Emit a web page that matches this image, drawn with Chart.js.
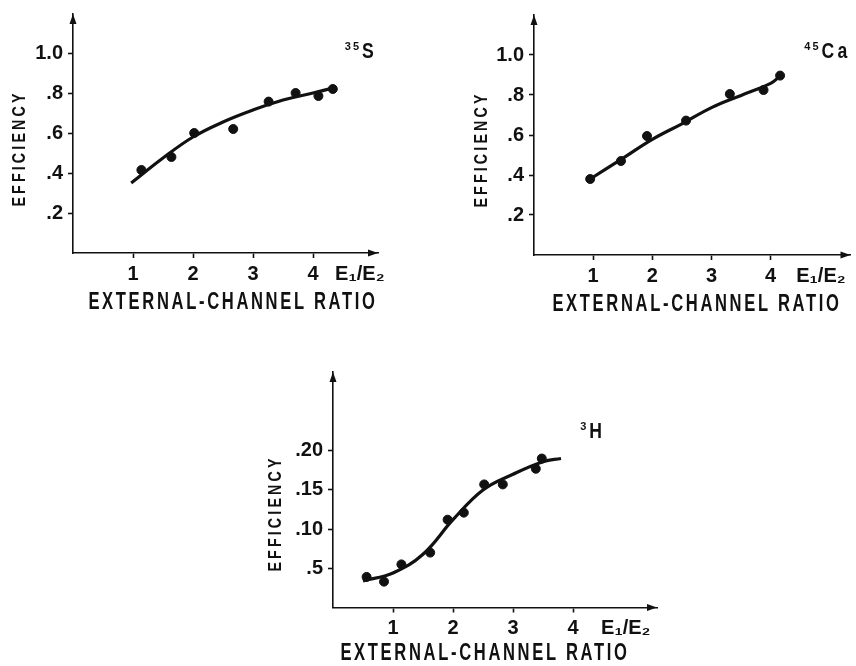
<!DOCTYPE html>
<html>
<head>
<meta charset="utf-8">
<script src="https://cdn.jsdelivr.net/npm/chart.js@4.4.1/dist/chart.umd.min.js"></script>
<style>
  body { margin: 0; background: #fff; width: 856px; height: 666px; overflow: hidden; }
  .panel { position: absolute; }
</style>
</head>
<body>
<div class="panel" style="left:0;top:0"><canvas id="sulfur" width="428" height="330"></canvas></div>
<div class="panel" style="left:428px;top:0"><canvas id="calcium" width="428" height="330"></canvas></div>
<div class="panel" style="left:200px;top:340px"><canvas id="tritium" width="470" height="326"></canvas></div>
<script>
// 35S panel
const sulfurX = [1.14, 1.64, 2.02, 2.67, 3.26, 3.71, 4.09, 4.33];
const sulfurY = [0.415, 0.48, 0.60, 0.62, 0.757, 0.80, 0.785, 0.82];
const sulfurFitX = [0.97, 1.5, 2.0, 2.5, 3.0, 3.5, 4.0, 4.33];
const sulfurFitY = [0.35, 0.475, 0.58, 0.655, 0.715, 0.765, 0.80, 0.825];

// 45Ca panel
const calciumX = [0.95, 1.47, 1.91, 2.57, 3.31, 3.88, 4.16];
const calciumY = [0.38, 0.47, 0.595, 0.672, 0.805, 0.825, 0.897];
const calciumFitX = [0.95, 1.5, 2.0, 2.5, 3.0, 3.5, 4.0, 4.17];
const calciumFitY = [0.38, 0.483, 0.578, 0.656, 0.737, 0.798, 0.858, 0.897];

// 3H panel
const tritiumX = [0.56, 0.85, 1.14, 1.62, 1.91, 2.18, 2.52, 2.83, 3.38, 3.48];
const tritiumY = [0.039, 0.033, 0.055, 0.070, 0.112, 0.121, 0.157, 0.157, 0.177, 0.190];
const tritiumFitX = [0.5, 1.0, 1.5, 2.0, 2.5, 3.0, 3.5, 3.8];
const tritiumFitY = [0.034, 0.044, 0.068, 0.112, 0.150, 0.170, 0.186, 0.19];

// tick labels
const xTicks = [1, 2, 3, 4];
const xTickLabels = ['1', '2', '3', '4'];
const effTicks = [0.2, 0.4, 0.6, 0.8, 1.0];
const effTickLabels = ['.2', '.4', '.6', '.8', '1.0'];
const tritiumTicks = [0.05, 0.10, 0.15, 0.20];
const tritiumTickLabels = ['.5', '.10', '.15', '.20'];

const xUnit = 'E\u2081/E\u2082';
const xTitle = 'EXTERNAL-CHANNEL RATIO';
const yTitle = 'EFFICIENCY';

const INK = '#111';
const FAMILY = '"Liberation Sans", Arial, sans-serif';

// text squeezed sideways, the original lettering is a narrow face
function narrowText(ctx, text, x, y, sx, spacing, angle) {
    ctx.save();
    ctx.translate(x, y);
    if (angle) ctx.rotate(angle);
    ctx.scale(sx, 1);
    ctx.letterSpacing = spacing + 'px';
    ctx.fillText(text, 0, 0);
    const w = ctx.measureText(text).width * sx;
    ctx.restore();
    return w;
}

const decor = {
    id: 'decor',
    afterDraw(chart, args, opts) {
        const { ctx, chartArea: a, scales } = chart;
        ctx.save();
        ctx.fillStyle = INK;

        // arrow heads on both axes
        ctx.beginPath();
        ctx.moveTo(a.right, a.bottom);
        ctx.lineTo(a.right - 10, a.bottom - 3.5);
        ctx.lineTo(a.right - 10, a.bottom + 3.5);
        ctx.fill();
        ctx.beginPath();
        ctx.moveTo(a.left, a.top);
        ctx.lineTo(a.left - 3.5, a.top + 10);
        ctx.lineTo(a.left + 3.5, a.top + 10);
        ctx.fill();

        ctx.textAlign = 'center';
        ctx.textBaseline = 'middle';
        ctx.font = `bold 23px ${FAMILY}`;
        narrowText(ctx, xTitle, a.left + opts.xTitleDx, a.bottom + opts.xTitleDy, 0.72, 3.7);

        ctx.font = `bold 19px ${FAMILY}`;
        narrowText(ctx, yTitle, a.left - opts.yTitleDx, a.bottom - opts.yTitleDy, 0.75, 4.2, -Math.PI / 2);

        // isotope name, mass number raised
        ctx.textAlign = 'left';
        ctx.textBaseline = 'alphabetic';
        const ix = scales.x.getPixelForValue(opts.isoX);
        const iy = scales.y.getPixelForValue(opts.isoY);
        ctx.font = `bold 11px ${FAMILY}`;
        const mw = narrowText(ctx, opts.mass, ix, iy - 8, 1, 2);
        ctx.font = `bold 22px ${FAMILY}`;
        narrowText(ctx, opts.symbol, ix + mw + 1, iy, 0.8, 4);
        ctx.restore();
    }
};

function makePanel(id, p) {
    const unitPos = p.unitPos;
    new Chart(document.getElementById(id), {
        type: 'scatter',
        data: {
            datasets: [{
                type: 'line',
                data: p.fitX.map((x, i) => ({ x, y: p.fitY[i] })),
                borderColor: INK,
                borderWidth: 3.2,
                pointRadius: 0,
                tension: 0.4,
                fill: false
            }, {
                data: p.x.map((x, i) => ({ x, y: p.y[i] })),
                backgroundColor: INK,
                borderColor: INK,
                pointRadius: 4.5
            }]
        },
        options: {
            responsive: false,
            animation: false,
            devicePixelRatio: 1,
            layout: { padding: { top: p.padTop, right: p.padRight, left: 0, bottom: 0 } },
            plugins: {
                legend: { display: false },
                tooltip: { enabled: false },
                decor: p.decor
            },
            scales: {
                x: {
                    type: 'linear',
                    min: 0,
                    max: p.xMax,
                    border: { color: INK, width: 1.6 },
                    grid: {
                        drawOnChartArea: false,
                        tickLength: 5,
                        tickWidth: 1.6,
                        tickColor: (ctx) => (ctx.tick && ctx.tick.value === unitPos ? 'rgba(0,0,0,0)' : INK)
                    },
                    afterBuildTicks: (scale) => {
                        scale.ticks = xTicks.map(v => ({ value: v })).concat([{ value: unitPos }]);
                    },
                    afterFit: (scale) => {
                        scale.height = p.xHeight;
                        scale.paddingLeft = 0;
                        scale.paddingRight = 0;
                    },
                    ticks: {
                        autoSkip: false,
                        maxRotation: 0,
                        padding: 4,
                        color: INK,
                        font: { family: FAMILY, size: 20, weight: 'bold' },
                        callback: (v, i) => (i < xTickLabels.length ? xTickLabels[i] : xUnit)
                    }
                },
                y: {
                    type: 'linear',
                    min: 0,
                    max: p.yMax,
                    border: { color: INK, width: 1.6 },
                    grid: { drawOnChartArea: false, tickLength: 5, tickWidth: 1.6, tickColor: INK },
                    afterBuildTicks: (scale) => {
                        scale.ticks = p.yTicks.map(v => ({ value: v }));
                    },
                    afterFit: (scale) => {
                        scale.width = p.yWidth;
                        scale.paddingTop = 0;
                        scale.paddingBottom = 0;
                    },
                    ticks: {
                        autoSkip: false,
                        padding: 5,
                        color: INK,
                        font: { family: FAMILY, size: 20, weight: 'bold' },
                        callback: (v, i) => p.yLabels[i]
                    }
                }
            }
        },
        plugins: [decor]
    });
}

makePanel('sulfur', {
    x: sulfurX, y: sulfurY, fitX: sulfurFitX, fitY: sulfurFitY,
    yTicks: effTicks, yLabels: effTickLabels,
    xMax: 5.083, yMax: 1.195, unitPos: 4.78,
    yWidth: 73, xHeight: 77, padTop: 14, padRight: 50,
    decor: { mass: '35', symbol: 'S', isoX: 4.53, isoY: 0.975, xTitleDx: 160, xTitleDy: 50, yTitleDx: 53, yTitleDy: 104.5 }
});

makePanel('calcium', {
    x: calciumX, y: calciumY, fitX: calciumFitX, fitY: calciumFitY,
    yTicks: effTicks, yLabels: effTickLabels,
    xMax: 5.35, yMax: 1.2, unitPos: 4.85,
    yWidth: 106, xHeight: 75, padTop: 15, padRight: 1,
    decor: { mass: '45', symbol: 'Ca', isoX: 4.57, isoY: 0.985, xTitleDx: 163, xTitleDy: 50, yTitleDx: 52.5, yTitleDy: 105.5 }
});

makePanel('tritium', {
    x: tritiumX, y: tritiumY, fitX: tritiumFitX, fitY: tritiumFitY,
    yTicks: tritiumTicks, yLabels: tritiumTickLabels,
    xMax: 5.4, yMax: 0.3004, unitPos: 4.88,
    yWidth: 133, xHeight: 58.5, padTop: 32, padRight: 13,
    decor: { mass: '3', symbol: 'H', isoX: 4.12, isoY: 0.216, xTitleDx: 152, xTitleDy: 46, yTitleDx: 57.5, yTitleDy: 94 }
});
</script>
</body>
</html>
